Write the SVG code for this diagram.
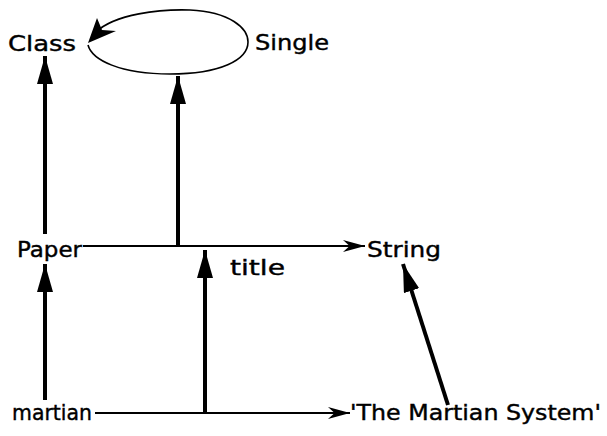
<svg xmlns="http://www.w3.org/2000/svg" width="607" height="436" viewBox="0 0 607 436">
<style>
text{font-family:"DejaVu Sans","Liberation Sans",sans-serif;font-size:21px;fill:#000;stroke:#000;stroke-width:0.4}
.thick{stroke:#000;stroke-width:4;fill:none}
.thin{stroke:#000;stroke-width:2;fill:none}
.head{fill:#000;stroke:none}
</style>
<defs>
<marker id="big" viewBox="0 0 10 10" refX="10" refY="5" markerWidth="7" markerHeight="4" markerUnits="strokeWidth" orient="auto" preserveAspectRatio="none"><path d="M0,0 L10,5 L0,10 Z" class="head"/></marker>
<marker id="small" viewBox="0 0 10 10" refX="10" refY="5" markerWidth="11" markerHeight="6" markerUnits="strokeWidth" orient="auto" preserveAspectRatio="none"><path d="M0,0 L10,5 L0,10 L3,5 Z" class="head"/></marker>
</defs>
<g id="Class"><text x="8" y="51" textLength="68" lengthAdjust="spacingAndGlyphs">Class</text></g>
<g id="Single"><text x="255" y="50" textLength="74" lengthAdjust="spacingAndGlyphs">Single</text></g>
<g id="Paper"><text x="17" y="257" textLength="65" lengthAdjust="spacingAndGlyphs">Paper</text></g>
<g id="String"><text x="367" y="257" textLength="74" lengthAdjust="spacingAndGlyphs">String</text></g>
<g id="martian"><text x="12" y="420" textLength="80" lengthAdjust="spacingAndGlyphs">martian</text></g>
<g id="TheMartianSystem"><text x="350" y="420" textLength="251" lengthAdjust="spacingAndGlyphs">'The Martian System'</text></g>
<g id="connectors">
<path class="thin" style="stroke-width:1.6" d="M96,32 C115,14 160,9 190,10 C230,12 248,28 248,42 C248,60 220,74 170,74 C120,74 92,60 88,45"/>
<path class="head" d="M88,43 L97,18 L102,30 L116,31 Z"/>
<line class="thick" x1="45" y1="234" x2="45" y2="56" marker-end="url(#big)"/>
<line class="thick" x1="178" y1="246" x2="178" y2="76" marker-end="url(#big)"/>
<line class="thin" x1="83" y1="246" x2="365" y2="246" marker-end="url(#small)"/>
<text x="230" y="275" textLength="55" lengthAdjust="spacingAndGlyphs">title</text>
<line class="thick" x1="45" y1="400" x2="45" y2="264" marker-end="url(#big)"/>
<line class="thick" x1="205" y1="413" x2="205" y2="250" marker-end="url(#big)"/>
<line class="thin" x1="95" y1="413" x2="350" y2="413" marker-end="url(#small)"/>
<line class="thick" x1="448" y1="405" x2="403" y2="264" marker-end="url(#big)"/>
</g>
</svg>
